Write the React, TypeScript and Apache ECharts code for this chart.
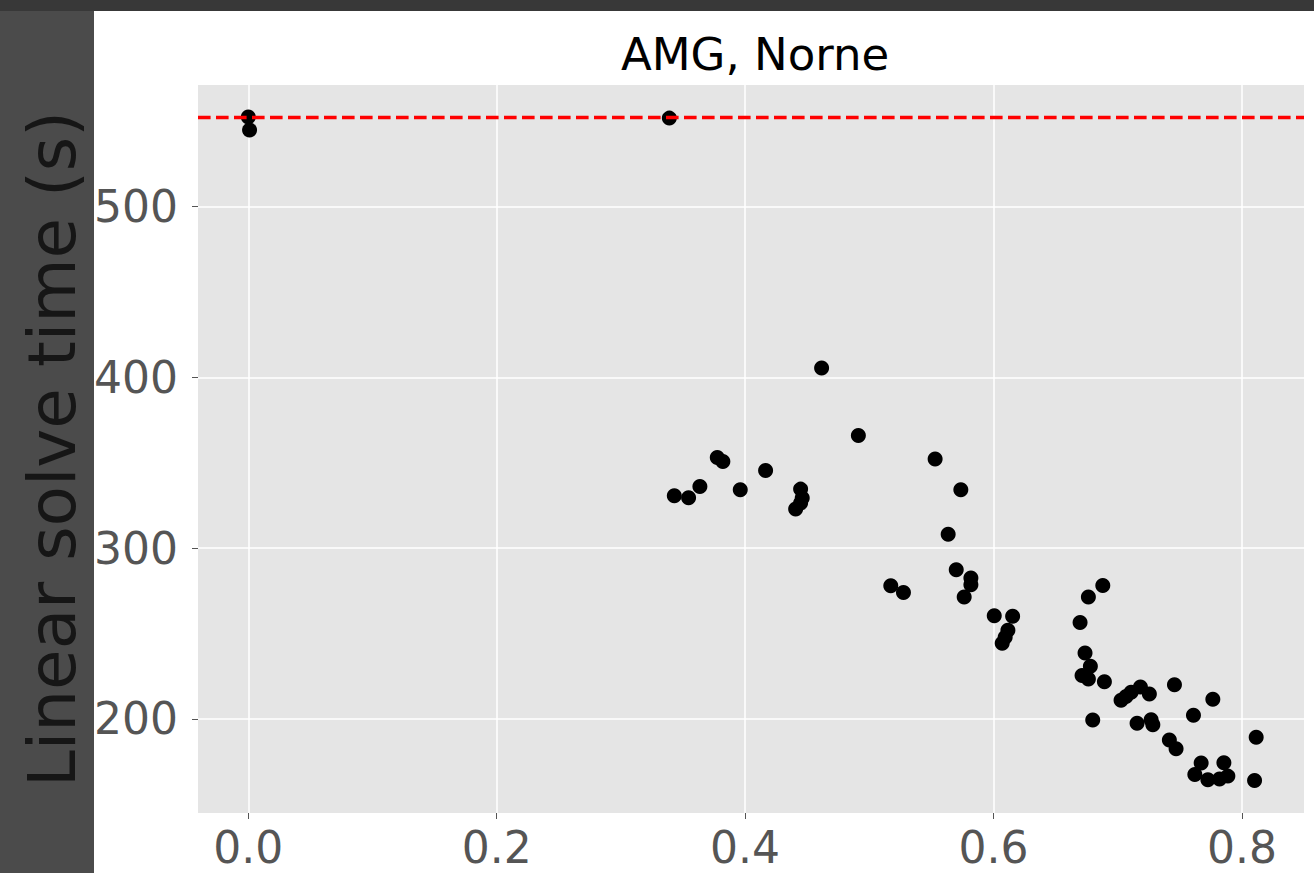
import React, { useEffect, useRef } from "react";
import * as echarts from "echarts";

const titleText = "AMG, Norne";
const yAxisLabel = "Linear solve time (s)";
const xTicks = [0.0, 0.2, 0.4, 0.6, 0.8];
const yTicks = [200, 300, 400, 500];
const baselineTime = 552.5;

const xValues = [
  0.0, 0.001, 0.339, 0.343, 0.3545, 0.3636, 0.3776, 0.3821, 0.3961, 0.4165,
  0.4447, 0.446, 0.4447, 0.4407, 0.4616, 0.4912, 0.5173, 0.5275, 0.553, 0.5635,
  0.57, 0.5737, 0.5764, 0.5818, 0.5818, 0.6006, 0.6154, 0.6116, 0.6094, 0.607,
  0.6697, 0.6764, 0.688, 0.6737, 0.678, 0.6713, 0.6764, 0.6893, 0.6799, 0.7027,
  0.7067, 0.7108, 0.7183, 0.7255, 0.7457, 0.7766, 0.761, 0.7156, 0.7269, 0.7283,
  0.7416, 0.747, 0.7672, 0.7855, 0.7621, 0.7726, 0.782, 0.7887, 0.8115, 0.8102,
];
const yValues = [
  552.5, 544.9, 551.8, 330.6, 329.4, 336.1, 353.0, 350.7, 334.1, 345.4,
  334.5, 329.3, 326.3, 322.8, 405.4, 365.9, 277.9, 274.0, 352.1, 308.0,
  287.3, 334.1, 271.3, 282.4, 278.5, 260.4, 260.0, 251.8, 247.7, 244.2,
  256.4, 271.3, 278.1, 238.5, 230.7, 225.4, 223.3, 221.7, 199.3, 210.8,
  213.1, 215.5, 218.6, 214.5, 219.9, 211.4, 202.1, 197.3, 199.4, 196.5,
  187.5, 182.4, 174.1, 174.2, 167.3, 164.3, 164.7, 166.4, 189.1, 163.8,
];

const FONT = "DejaVu Sans";

export default function App() {
  const ref = useRef<HTMLDivElement>(null);
  useEffect(() => {
    if (!ref.current) return;
    const chart = echarts.init(ref.current, null, { renderer: "svg" });
    const points = xValues.map((x, i) => [x, yValues[i]]);
    chart.setOption({
      animation: false,
      backgroundColor: "#ffffff",
      graphic: [
        { type: "rect", shape: { x: 0, y: 0, width: 1314, height: 11 }, style: { fill: "#383838" }, z: 0 },
        { type: "rect", shape: { x: 0, y: 11, width: 94, height: 862 }, style: { fill: "#4b4b4b" }, z: 0 },
        {
          type: "text",
          x: 52,
          y: 449,
          rotation: Math.PI / 2,
          z: 10,
          style: {
            text: yAxisLabel,
            font: `66px "${FONT}"`,
            fill: "#161616",
            textAlign: "center",
            textVerticalAlign: "middle",
          },
        },
      ],
      title: {
        text: titleText,
        left: 750,
        top: 27,
        textAlign: "center",
        textStyle: { fontFamily: FONT, fontSize: 45, fontWeight: "normal", color: "#000000" },
      },
      grid: {
        left: 198,
        right: 10,
        top: 85,
        bottom: 60,
        show: true,
        backgroundColor: "#E5E5E5",
        borderWidth: 0,
      },
      xAxis: {
        type: "value",
        min: -0.0405,
        max: 0.85,
        axisLine: { show: false, onZero: false },
        axisTick: { show: true, length: 6, lineStyle: { color: "#555555", width: 1 }, customValues: xTicks },
        axisLabel: {
          customValues: xTicks,
          formatter: (v: number) => v.toFixed(1),
          fontFamily: FONT,
          fontSize: 44,
          color: "#555555",
          margin: 12,
        },
        splitLine: { show: true, lineStyle: { color: "#ffffff", width: 1.5 } },
      },
      yAxis: {
        type: "value",
        min: 144.8,
        max: 571.2,
        axisLine: { show: false, onZero: false },
        axisTick: { show: true, length: 6, lineStyle: { color: "#555555", width: 1 }, customValues: yTicks },
        axisLabel: {
          customValues: yTicks,
          fontFamily: FONT,
          fontSize: 44,
          color: "#555555",
          margin: 20,
        },
        splitLine: { show: true, lineStyle: { color: "#ffffff", width: 1.5 } },
      },
      series: [
        {
          type: "scatter",
          data: points,
          symbol: "circle",
          symbolSize: 15,
          itemStyle: { color: "#000000", opacity: 1 },
          markLine: {
            silent: true,
            symbol: ["none", "none"],
            label: { show: false },
            lineStyle: { color: "#ff0000", width: 3.4, type: [12.6, 5.4] },
            data: [{ yAxis: baselineTime }],
          },
        },
      ],
    });
    return () => chart.dispose();
  }, []);
  return (
    <div
      ref={ref}
      style={{ position: "fixed", left: 0, top: 0, width: 1314, height: 873 }}
    />
  );
}
